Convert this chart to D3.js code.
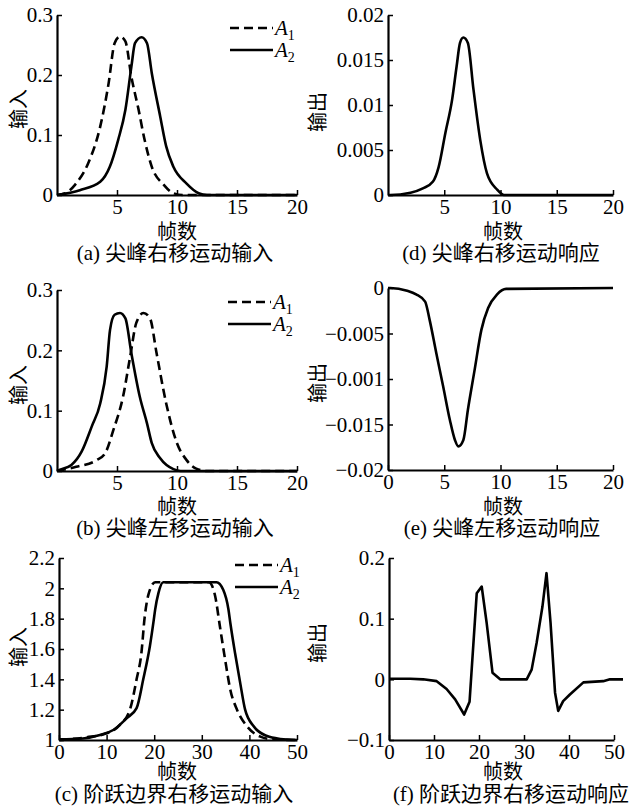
<!DOCTYPE html>
<html>
  <head>
    <meta charset="utf-8">
    <title>Input and response</title>
    <script src="https://d3js.org/d3.v7.min.js"></script>
    <style>
      body { margin: 0; background: #fff; }
      text { fill: #000; }
    </style>
  </head>
  <body>
    <svg width="632" height="810"></svg>
    <script>
      // (a) peak moving right: input
      var aFrames1 = [0, 0.7, 1.5, 2.6, 3.6, 4.3, 4.8, 5.25, 5.7, 6.2, 6.8, 7.3, 7.9, 8.9, 9.7, 10.5, 20];
      var aInput1  = [0, 0.003, 0.017, 0.053, 0.114, 0.186, 0.253, 0.264, 0.256, 0.197, 0.142, 0.092, 0.047, 0.017, 0.003, 0, 0];
      var aFrames2 = [0, 1.9, 3.6, 4.4, 5.1, 5.7, 6.2, 6.5, 7.05, 7.5, 7.9, 8.6, 9.1, 9.7, 10.8, 11.8, 12.5, 20];
      var aInput2  = [0, 0.008, 0.022, 0.047, 0.092, 0.142, 0.214, 0.253, 0.263, 0.253, 0.203, 0.131, 0.081, 0.047, 0.019, 0.003, 0, 0];

      // (b) peak moving left: input
      var bFrames1 = [0, 1.6, 3.3, 4, 4.7, 5.5, 6.1, 6.6, 7.2, 7.75, 8.3, 9.1, 10, 10.8, 11.6, 12.5, 20];
      var bInput1  = [0, 0.007, 0.018, 0.029, 0.068, 0.123, 0.19, 0.245, 0.262, 0.253, 0.195, 0.112, 0.046, 0.018, 0.004, 0, 0];
      var bFrames2 = [0, 0.25, 1.2, 2.05, 2.9, 3.6, 4.14, 4.42, 4.8, 5.25, 5.7, 6.2, 6.9, 7.5, 7.9, 8.6, 9.7, 10.3, 20];
      var bInput2  = [0, 0.002, 0.01, 0.032, 0.074, 0.112, 0.173, 0.234, 0.259, 0.262, 0.253, 0.195, 0.123, 0.079, 0.046, 0.021, 0.003, 0, 0];

      // (c) step edge moving right: input
      var cFrames1 = [0, 5.8, 10, 12.8, 14.9, 16.3, 17.3, 18, 18.8, 20.2, 31.5, 32.8, 33.8, 34.9, 36, 37.4, 39.5, 42.3, 45, 50];
      var cInput1  = [1.0, 1.018, 1.044, 1.1, 1.2, 1.40, 1.57, 1.81, 1.96, 2.04, 2.04, 1.95, 1.75, 1.53, 1.33, 1.2, 1.09, 1.022, 1.004, 1.0];
      var cFrames2 = [0, 5, 8.6, 11.4, 14.2, 16.3, 17.7, 19.1, 19.9, 20.2, 20.9, 21.9, 33.1, 34.5, 35.6, 36, 37, 38.1, 39.1, 40.9, 43.7, 46.5, 50];
      var cInput2  = [1.004, 1.01, 1.033, 1.066, 1.143, 1.21, 1.40, 1.62, 1.79, 1.86, 1.97, 2.04, 2.04, 1.99, 1.86, 1.77, 1.57, 1.37, 1.2, 1.09, 1.026, 1.007, 1.0];

      // (d) peak moving right: response
      var dFrames = [0, 0.2, 2, 3.1, 4.0, 4.5, 5.1, 5.7, 6.1, 6.4, 6.7, 7.1, 7.6, 8.2, 8.8, 9.7, 10.3, 20];
      var dOutput = [0, 0, 0.00026, 0.00074, 0.0015, 0.0031, 0.0069, 0.0106, 0.0143, 0.0169, 0.0175, 0.0169, 0.0117, 0.0061, 0.0024, 0.0006, 0, 0];

      // (e) peak moving left: response
      var eFrames = [0, 0.2, 1.7, 2.5, 3.3, 3.7, 4.3, 4.9, 5.5, 5.95, 6.25, 6.7, 7.1, 7.7, 8.3, 8.9, 9.7, 10.5, 20];
      var eOutput = [0, 0, -0.0003, -0.0007, -0.0015, -0.0035, -0.0072, -0.0108, -0.0145, -0.0167, -0.0174, -0.0167, -0.0134, -0.009, -0.0046, -0.0022, -0.0007, -0.0001, 0];

      // (f) step edge moving right: response
      var fFrames = [0, 4.7, 7.6, 10.6, 12.8, 14.7, 16.7, 17.9, 19.5, 20.6, 21.7, 23, 24.7, 30.6, 31.7, 32.8, 34.1, 35, 35.9, 36.9, 37.6, 38.7, 40.2, 43.2, 47.6, 49.1, 52];
      var fOutput = [0.001, 0.001, 0, -0.003, -0.016, -0.033, -0.058, -0.037, 0.142, 0.153, 0.093, 0.011, 0, 0, 0.016, 0.06, 0.12, 0.175, 0.093, -0.022, -0.052, -0.036, -0.025, -0.005, -0.003, 0, 0];

      // tick values and labels
      var peakXTicks = [5, 10, 15, 20];
      var peakXTicks0 = [0, 5, 10, 15, 20];
      var stepXTicks = [0, 10, 20, 30, 40, 50];
      var inputYTicks = [0, 0.1, 0.2, 0.3];
      var inputYLabels = ["0", "0.1", "0.2", "0.3"];
      var dYTicks = [0, 0.005, 0.01, 0.015, 0.02];
      var dYLabels = ["0", "0.005", "0.01", "0.015", "0.02"];
      var eYTicks = [0, -0.005, -0.01, -0.015, -0.02];
      var eYLabels = ["0", "\u22120.005", "\u22120.001", "\u22120.015", "\u22120.02"];
      var cYTicks = [1, 1.2, 1.4, 1.6, 1.8, 2, 2.2];
      var cYLabels = ["1", "1.2", "1.4", "1.6", "1.8", "2", "2.2"];
      var fYTicks = [-0.1, 0, 0.1, 0.2];
      var fYLabels = ["\u22120.1", "0", "0.1", "0.2"];

      var legendNames = ["1", "2"];   // subscripts of A

      var svg = d3.select("svg");
      var font = "Liberation Serif, Tinos, Times New Roman, DejaVu Serif, serif";
      var cjk = "Liberation Serif, Tinos, Times New Roman, DejaVu Serif, Noto Sans CJK SC, serif";

      var panels = [
        {left: 57, right: 297, top: 15, bottom: 195, xDomain: [0, 20], yDomain: [0, 0.3],
         xTicks: peakXTicks, yTicks: inputYTicks, yLabels: inputYLabels, yTitle: "输入",
         xTitleY: 239, capY: 260, capX: 175, xTitleX: 177, yTitleX: 19, yTitleY: 109,
         caption: "(a) 尖峰右移运动输入", smooth: true, legend: {x: 230, y: 28},
         series: [{x: aFrames1, y: aInput1, dash: true}, {x: aFrames2, y: aInput2}]},
        {left: 388, right: 613, top: 15, bottom: 195, xDomain: [0, 20], yDomain: [0, 0.02],
         xTicks: peakXTicks, yTicks: dYTicks, yLabels: dYLabels, yTitle: "输出",
         xTitleY: 239, capY: 260, capX: 501, xTitleX: 503, yTitleX: 318, yTitleY: 112,
         caption: "(d) 尖峰右移运动响应", smooth: true,
         series: [{x: dFrames, y: dOutput}]},
        {left: 57, right: 297, top: 290, bottom: 471, xDomain: [0, 20], yDomain: [0, 0.3],
         xTicks: peakXTicks, yTicks: inputYTicks, yLabels: inputYLabels, yTitle: "输入",
         xTitleY: 514, capY: 535, capX: 175, xTitleX: 177, yTitleX: 19, yTitleY: 385,
         caption: "(b) 尖峰左移运动输入", smooth: true, legend: {x: 228, y: 302},
         series: [{x: bFrames1, y: bInput1, dash: true}, {x: bFrames2, y: bInput2}]},
        {left: 388, right: 613, top: 288, bottom: 470, xDomain: [0, 20], yDomain: [-0.02, 0],
         xTicks: peakXTicks0, yTicks: eYTicks, yLabels: eYLabels, yTitle: "输出",
         xTitleY: 514, capY: 535, capX: 502, xTitleX: 503, yTitleX: 318, yTitleY: 383,
         caption: "(e) 尖峰左移运动响应", smooth: true,
         series: [{x: eFrames, y: eOutput}]},
        {left: 59, right: 297, top: 558, bottom: 740, xDomain: [0, 50], yDomain: [1, 2.2],
         xTicks: stepXTicks, yTicks: cYTicks, yLabels: cYLabels, yTitle: "输入",
         xTitleY: 779, capY: 801, capX: 174, xTitleX: 177, yTitleX: 19, yTitleY: 647,
         caption: "(c) 阶跃边界右移运动输入", smooth: true, legend: {x: 235, y: 565},
         series: [{x: cFrames1, y: cInput1, dash: true}, {x: cFrames2, y: cInput2}]},
        {left: 389, right: 614, top: 558, bottom: 740, xDomain: [0, 50], yDomain: [-0.1, 0.2],
         xTicks: stepXTicks, yTicks: fYTicks, yLabels: fYLabels, yTitle: "输出",
         xTitleY: 779, capY: 801, capX: 511, xTitleX: 503, yTitleX: 318, yTitleY: 643,
         caption: "(f) 阶跃边界右移运动响应", smooth: false,
         series: [{x: fFrames, y: fOutput}]}
      ];

      panels.forEach(drawPanel);

      function drawPanel(p) {
        var x = d3.scaleLinear().domain(p.xDomain).range([p.left, p.right]),
            y = d3.scaleLinear().domain(p.yDomain).range([p.bottom, p.top]);
        var g = svg.append("g");

        var xAxis = g.append("g")
            .attr("transform", "translate(0," + p.bottom + ")")
            .call(d3.axisBottom(x)
              .tickValues(p.xTicks)
              .tickFormat(function(d) { return d; })
              .tickSizeInner(-5).tickSizeOuter(0).tickPadding(4));

        var yAxis = g.append("g")
            .attr("transform", "translate(" + p.left + ",0)")
            .call(d3.axisLeft(y)
              .tickValues(p.yTicks)
              .tickFormat(function(d, i) { return p.yLabels[i]; })
              .tickSizeInner(-5).tickSizeOuter(0).tickPadding(4));

        [xAxis, yAxis].forEach(function(a) {
          a.attr("font-family", font).attr("font-size", 21);
          a.select(".domain").attr("stroke-width", 2.2).attr("stroke", "#000");
          a.selectAll(".tick line").attr("stroke-width", 1.5).attr("stroke", "#000");
          a.selectAll("text").style("font-family", font).style("font-size", "21px").attr("fill", "#000");
        });

        var line = d3.line()
            .x(function(d) { return x(d[0]); })
            .y(function(d) { return y(d[1]); })
            .curve(p.smooth ? d3.curveMonotoneX : d3.curveLinear);

        p.series.forEach(function(s) {
          var pts = s.x.map(function(v, i) { return [v, s.y[i]]; });
          g.append("path")
              .attr("d", line(pts))
              .attr("fill", "none")
              .attr("stroke", "#000")
              .attr("stroke-width", 2.6)
              .attr("stroke-linejoin", "round")
              .attr("stroke-dasharray", s.dash ? "9,5" : null);
        });

        // axis titles and caption
        g.append("text")
            .attr("x", p.xTitleX).attr("y", p.xTitleY)
            .attr("text-anchor", "middle")
            .style("font-family", cjk).style("font-size", "20px")
            .text("帧数");

        g.append("text")
            .attr("transform", "translate(" + (p.yTitleX + 7) + "," + p.yTitleY + ") rotate(-90)")
            .attr("text-anchor", "middle")
            .style("font-family", cjk).style("font-size", "20px")
            .text(p.yTitle);

        g.append("text")
            .attr("x", p.capX).attr("y", p.capY)
            .attr("text-anchor", "middle")
            .style("font-family", cjk).style("font-size", "21px")
            .text(p.caption);

        if (p.legend) {
          var lg = g.append("g").attr("transform", "translate(" + p.legend.x + "," + p.legend.y + ")");
          p.series.forEach(function(s, i) {
            var ly = i * 22;
            lg.append("line")
                .attr("x1", 0).attr("x2", 43).attr("y1", ly).attr("y2", ly)
                .attr("stroke", "#000").attr("stroke-width", 2.6)
                .attr("stroke-dasharray", s.dash ? "9,5" : null);
            var t = lg.append("text")
                .attr("x", 45).attr("y", ly + 7)
                .style("font-family", font).style("font-size", "21px");
            t.append("tspan").attr("font-style", "italic").text("A");
            t.append("tspan").style("font-size", "14px").attr("dy", 5).text(legendNames[i]);
          });
        }
      }
    </script>
  </body>
</html>
